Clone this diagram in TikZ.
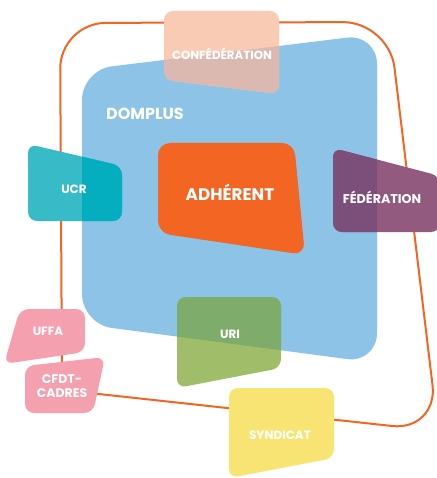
\documentclass[tikz,border=0pt]{standalone}
\usepackage{fontspec}
\setmainfont{Poppins}
\definecolor{blueC}{HTML}{8DC3E6}
\definecolor{orangeC}{HTML}{F26522}
\definecolor{confA}{HTML}{F9CBB5}
\definecolor{confB}{HTML}{DBB9B1}
\definecolor{ucrA}{HTML}{37BBC6}
\definecolor{ucrB}{HTML}{05AEBE}
\definecolor{fedA}{HTML}{935A80}
\definecolor{fedB}{HTML}{7C4F7B}
\definecolor{uriA}{HTML}{A0BD6A}
\definecolor{uriB}{HTML}{7EAD6B}
\definecolor{pinkC}{HTML}{F4A0AF}
\definecolor{yellowC}{HTML}{F8E472}
\tikzset{
  lbl/.style={text=white, font=\bfseries, inner sep=0pt, align=center},
  boxr/.style={rounded corners=9pt},
  bluer/.style={rounded corners=30pt},
}
\def\bluepath{(82,70) -- (377,34) -- (377,363) -- (82,324) -- cycle}
\def\confpath{(164,11) -- (279,11) -- (279,94) -- (164,80) -- cycle}
\def\ucrpath{(28,144) -- (122,166) -- (122,221) -- (28,221) -- cycle}
\def\fedpath{(333,148) -- (440,176) -- (440,232) -- (333,232) -- cycle}
\def\adhpath{(158,143) -- (294,143) -- (305,255) -- (158,233) -- cycle}
\def\uripath{(177,297) -- (281,297) -- (281,368) -- (177,388) -- cycle}
\def\uffapath{(20,309) -- (85,309) -- (85,352) -- (4,364) -- cycle}
\def\cfdtpath{(25,366) -- (105,357) -- (93,413) -- (25,413) -- cycle}
\def\syndpath{(229,388) -- (334,388) -- (334,458) -- (229,478) -- cycle}
\begin{document}
\begin{tikzpicture}[x=1pt,y=-1pt]
\useasboundingbox[fill=white] (0,0) rectangle (436,478);
% orange loop
\draw[orangeC, line width=2pt, rounded corners=46pt] (62,390) -- (60,23) -- (389,22) -- (438,431) -- (62,390);
% blue
\fill[blueC, bluer] \bluepath;
% two-tone boxes
\begin{scope}
  \fill[confA, boxr] \confpath;
  \clip[bluer] \bluepath;
  \fill[confB, boxr] \confpath;
\end{scope}
\begin{scope}
  \fill[ucrA, boxr] \ucrpath;
  \clip[bluer] \bluepath;
  \fill[ucrB, boxr] \ucrpath;
\end{scope}
\begin{scope}
  \fill[fedA, boxr] \fedpath;
  \clip[bluer] \bluepath;
  \fill[fedB, boxr] \fedpath;
\end{scope}
\begin{scope}
  \fill[uriA, boxr] \uripath;
  \clip[bluer] \bluepath;
  \fill[uriB, boxr] \uripath;
\end{scope}
\fill[orangeC, rounded corners=12pt] \adhpath;
\fill[pinkC, boxr] \uffapath;
\fill[pinkC, boxr] \cfdtpath;
\fill[yellowC, boxr] \syndpath;
% labels
\node[lbl, font=\bfseries\fontsize{11.8}{13}\selectfont] (conf) at (222,54) {CONFÉDÉRATION};
\node[lbl, anchor=west, font=\bfseries\fontsize{16}{18}\selectfont] (domplus) at (106,114) {DOMPLUS};
\node[lbl, font=\bfseries\fontsize{16.8}{18}\selectfont] (adh) at (230,192) {ADHÉRENT};
\node[lbl, font=\bfseries\fontsize{12}{14}\selectfont] (ucr) at (74,189) {UCR};
\node[lbl, font=\bfseries\fontsize{12.7}{14}\selectfont] (fed) at (382,197) {FÉDÉRATION};
\node[lbl, font=\bfseries\fontsize{12}{14}\selectfont] (uri) at (230,334) {URI};
\node[lbl, font=\bfseries\fontsize{12}{14}\selectfont] (uffa) at (48,331) {UFFA};
\node[lbl, font=\bfseries\fontsize{12.5}{13.5}\selectfont] (cfdt) at (62,386) {CFDT-\\CADRES};
\node[lbl, font=\bfseries\fontsize{12}{13}\selectfont] (synd) at (280,435) {SYNDICAT};
\end{tikzpicture}
\end{document}
